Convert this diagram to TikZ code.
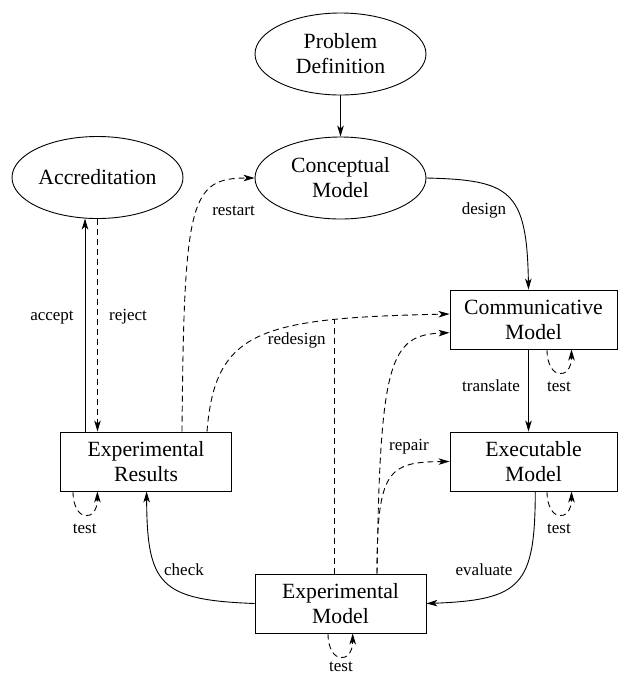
\documentclass[tikz,border=0pt]{standalone}
\usepackage{fontspec}
\setmainfont{Liberation Serif}
\usetikzlibrary{shapes.geometric,arrows.meta,calc}
\begin{document}
\begin{tikzpicture}[x=1pt,y=-1pt,
  every node/.style={inner sep=0pt},
  ell/.style={draw,ellipse,line width=0.9pt,minimum width=171pt,minimum height=82pt,align=center,font=\fontsize{21.7}{25}\selectfont},
  box/.style={draw,rectangle,line width=0.9pt,minimum width=171pt,minimum height=59pt,align=center,font=\fontsize{21.7}{25}\selectfont},
  lbl/.style={font=\fontsize{17}{20}\selectfont,anchor=base},
  conn/.style={line width=0.9pt,-{Stealth[length=11pt,width=6.5pt,inset=3pt]}},
  dconn/.style={conn,dash pattern=on 6pt off 4pt},
  dline/.style={line width=0.9pt,dash pattern=on 6pt off 4pt},
]
\useasboundingbox (0,0) rectangle (618,673);

% nodes
\node[ell] (pd) at (340.5,54) {Problem\\Definition};
\node[ell] (cm) at (340.5,178) {Conceptual\\Model};
\node[ell] (acc) at (97.5,177.5) {Accreditation};
\node[box,minimum width=167pt] (comm) at (533.5,319.5) {Communicative\\Model};
\node[box,minimum width=167pt] (exe) at (533.5,461.5) {Executable\\Model};
\node[box] (eres) at (146,461.5) {Experimental\\Results};
\node[box] (emod) at (340.5,603.5) {Experimental\\Model};

% problem definition -> conceptual
\draw[conn] (pd) -- (cm);

% design
\draw[conn] (cm.east) .. controls (510,180) and (527,190) .. ($(comm.north)+(-5,0)$);

% translate
\draw[conn] ($(comm.south)+(-5,0)$) -- ($(exe.north)+(-5,0)$);

% accept / reject
\coordinate (acctop) at ($(acc.south)+(-12.5,-0.4)$);
\draw[conn] (eres.north -| acctop) -- (acctop);
\draw[dconn] (acc.south) -- (eres.north -| acc.south);

% restart
\draw[dconn] ($(eres.north)+(36,0)$) .. controls (184,200) and (190,178) .. (cm.west);

% redesign
\draw[dconn] ($(eres.north)+(61,0)$) .. controls (215,330) and (260,318) .. coordinate[pos=0.755] (rd) ($(comm.west)+(0,-5.5)$);
\draw[dline] (emod.north -| rd) -- (rd);

% repair
\draw[dconn] ($(emod.north)+(36.5,0)$) .. controls (380,360) and (390,335) .. ($(comm.west)+(0,13.2)$);
\draw[dconn] ($(emod.north)+(36.5,0)$) .. controls (377,470) and (388,462) .. (exe.west);

% check
\draw[conn] (emod.west) .. controls (160,600) and (147,585) .. ($(eres.south)+(0.6,0)$);

% evaluate
\draw[conn] ($(exe.south)+(1.8,0)$) .. controls (535,585) and (522,600) .. (emod.east);

% test loops
\draw[dconn] ($(comm.south)+(13.5,0)$) .. controls +(0,31) and +(0,31) .. ($(comm.south)+(38,0)$);
\draw[dconn] ($(exe.south)+(13.5,0)$) .. controls +(0,31) and +(0,31) .. ($(exe.south)+(38,0)$);
\draw[dconn] ($(eres.south)+(-73,0)$) .. controls +(0,31) and +(0,31) .. ($(eres.south)+(-48.6,0)$);
\draw[dconn] ($(emod.south)+(-12.5,0)$) .. controls +(0,31) and +(0,31) .. ($(emod.south)+(12.2,0)$);

% labels
\node[lbl] (lrestart) at (233.5,215.5) {restart};
\node[lbl] (ldesign) at (484,214.5) {design};
\node[lbl] (laccept) at (52,320.5) {accept};
\node[lbl] (lreject) at (128,320.5) {reject};
\node[lbl] (lredesign) at (296.7,344.8) {redesign};
\node[lbl] (ltranslate) at (491,391.2) {translate};
\node[lbl] (ltestc) at (559,391.2) {test};
\node[lbl] (lrepair) at (409,450.5) {repair};
\node[lbl] (ltestx) at (559,533.5) {test};
\node[lbl] (ltestr) at (84.7,533.5) {test};
\node[lbl] (lcheck) at (184,575.5) {check};
\node[lbl] (levaluate) at (484,575.5) {evaluate};
\node[lbl] (ltestm) at (341,671.5) {test};
\end{tikzpicture}
\end{document}
